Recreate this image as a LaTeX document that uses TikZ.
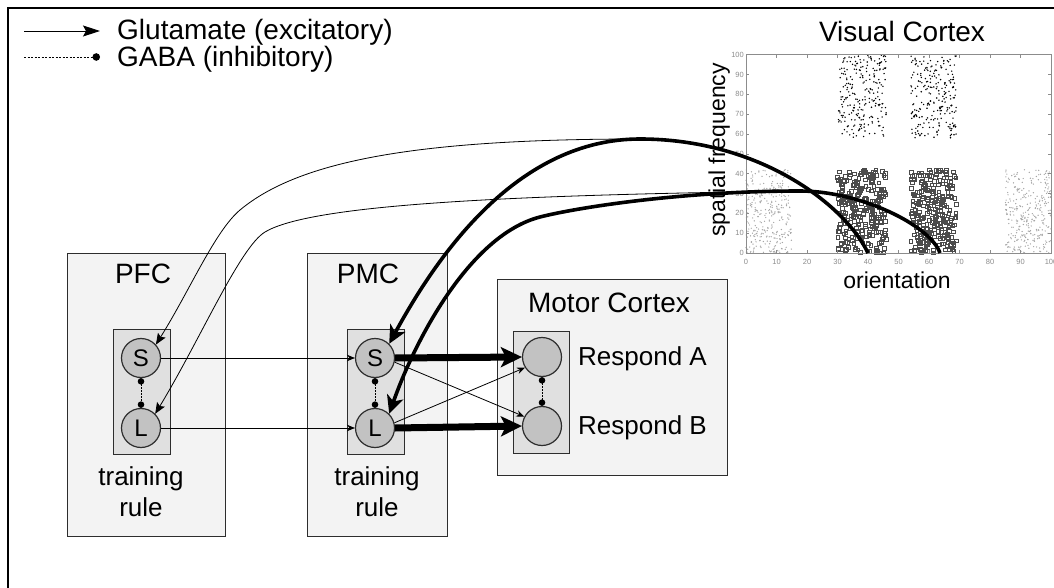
\documentclass[tikz,border=0pt]{standalone}
\usepackage{fontspec}
\setmainfont{Liberation Sans}
\usetikzlibrary{arrows.meta}

\definecolor{areafill}{RGB}{243,243,243}
\definecolor{poolfill}{RGB}{224,224,224}
\definecolor{cellfill}{RGB}{194,194,194}
\definecolor{edgecol}{RGB}{45,45,45}
\definecolor{axiscol}{RGB}{140,140,140}
\definecolor{sqcol}{RGB}{75,75,75}
\definecolor{faintcol}{RGB}{165,165,165}

\newcommand\fsz[1]{\fontsize{#1}{#1}\selectfont}

\tikzset{
  area/.style={draw=edgecol, fill=areafill, line width=1.3pt, inner sep=0pt, anchor=north west},
  pool/.style={draw=edgecol, fill=poolfill, line width=1.2pt, inner sep=0pt, anchor=north west},
  cell/.style={circle, draw=edgecol, fill=cellfill, line width=1.2pt, minimum size=39pt, inner sep=0pt, font=\fsz{24}},
  exc/.style={-{Stealth[length=8pt,width=6.5pt]}, line width=0.8pt},
  excstrong/.style={-{Stealth[length=21pt,width=20pt,inset=5pt]}, line width=7pt},
  proj/.style={-{Stealth[length=11pt,width=9pt,inset=2pt]}, line width=0.8pt},
  projstrong/.style={-{Stealth[length=18pt,width=17pt,inset=5pt]}, line width=3.6pt},
  inh/.style={{Circle[length=6.5pt]}-{Circle[length=6.5pt]}, dash pattern=on 1.5pt off 1.5pt, line width=1pt},
  title/.style={anchor=base, font=\fsz{28}},
  ticklab/.style={font=\fsz{7.5}, text=axiscol, inner sep=1pt},
}

\begin{document}
\begin{tikzpicture}[x=1pt, y=-1pt]
\useasboundingbox (0,0) rectangle (1054,588);

% frame
\draw[line width=2.5pt] (8,588) -- (8,8) -- (1054,8);

% legend
\coordinate (lgA) at (24,31);
\coordinate (lgB) at (100,31);
\coordinate (lgC) at (24,57);
\coordinate (lgD) at (100,57);
\draw[-{Stealth[length=17pt,width=11pt,inset=3pt]}, line width=0.9pt] (lgA) -- (lgB);
\draw[-{Circle[length=7.5pt]}, dash pattern=on 2pt off 1.5pt, line width=0.9pt] (lgC) -- (lgD);
\node[anchor=base west, font=\fsz{28}, inner sep=0pt] (lgexc) at (117,40) {Glutamate (excitatory)};
\node[anchor=base west, font=\fsz{28}, inner sep=0pt] (lginh) at (117,67) {GABA (inhibitory)};

% ---------- visual cortex scatter plot ----------
\node[title] (vctitle) at (902,42) {Visual Cortex};
\node[anchor=base, font=\fsz{23}] (xlab) at (897,288) {orientation};
\node[anchor=base, rotate=90, font=\fsz{23}] (ylab) at (725,150) {spatial frequency};

\pgfmathsetseed{11}
% faint populations
\foreach \lo in {0,85}{
  \foreach \k in {1,...,320}{
    \pgfmathsetmacro\px{746+3.05*(\lo+15*rnd)}
    \pgfmathsetmacro\py{253-1.983*(42*rnd)}
    \fill[faintcol] (\px,\py) circle (0.7);
  }
}
% high spatial frequency populations
\foreach \lo/\w in {30/16,54/15}{
  \foreach \k in {1,...,240}{
    \pgfmathsetmacro\px{746+3.05*(\lo+\w*rnd)}
    \pgfmathsetmacro\py{253-1.983*(58+42*rnd)}
    \fill[black] (\px,\py) circle (0.8);
  }
}
% low spatial frequency populations
\foreach \lo/\w in {30/16,54/15}{
  \foreach \k in {1,...,260}{
    \pgfmathsetmacro\px{746+3.05*(\lo+\w*rnd)}
    \pgfmathsetmacro\py{253-1.983*(42*rnd)}
    \draw[sqcol, line width=0.5pt] (\px-1.8,\py-1.8) rectangle ++(3.6,3.6);
  }
}
% axes
\draw[axiscol, line width=0.6pt] (746,54.7) rectangle (1051,253);
\foreach \u in {0,10,...,100}{
  \pgfmathsetmacro\tx{746+3.05*\u}
  \draw[axiscol, line width=0.5pt] (\tx,253) -- (\tx,250) (\tx,54.7) -- (\tx,57.7);
  \node[ticklab] at (\tx,262) {\u};
}
\foreach \v in {0,10,...,100}{
  \pgfmathsetmacro\ty{253-1.983*\v}
  \draw[axiscol, line width=0.5pt] (746,\ty) -- (749,\ty) (1051,\ty) -- (1048,\ty);
  \node[ticklab, anchor=east] at (745,\ty) {\v};
}
\coordinate (v40) at (868,253);
\coordinate (v63) at (940,253);

% ---------- areas ----------
\node[area, minimum width=158pt, minimum height=283pt] (pfc) at (67,253) {};
\node[area, minimum width=140pt, minimum height=283pt] (pmc) at (307,253) {};
\node[area, minimum width=230pt, minimum height=196pt] (motor) at (497,279) {};

\node[title] (pfct) at (143,283) {PFC};
\node[title] (pmct) at (368,283) {PMC};
\node[title] (motort) at (609,312) {Motor Cortex};

\node[anchor=north, align=center, inner sep=0pt, font={\fontsize{26}{31}\selectfont}] (pfcrule) at (141,466) {training\\rule};
\node[anchor=north, align=center, inner sep=0pt, font={\fontsize{26}{31}\selectfont}] (pmcrule) at (377,466) {training\\rule};

\node[pool, minimum width=57pt, minimum height=125pt] (pfcpool) at (113,329) {};
\node[pool, minimum width=57pt, minimum height=125pt] (pmcpool) at (347,329) {};
\node[pool, minimum width=56pt, minimum height=122pt] (motorpool) at (513,331) {};

\node[cell] (pfcS) at (141,358) {S};
\node[cell] (pfcL) at (141,428) {L};
\node[cell] (pmcS) at (375,358) {S};
\node[cell] (pmcL) at (375,428) {L};
\node[cell] (mA) at (542,357) {};
\node[cell] (mB) at (542,426) {};

\node[anchor=base west, inner sep=0pt, font=\fsz{26}] (respA) at (578,365) {Respond A};
\node[anchor=base west, inner sep=0pt, font=\fsz{26}] (respB) at (578,434) {Respond B};

% inhibitory links within each pool
\draw[inh] (pfcS) -- (pfcL);
\draw[inh] (pmcS) -- (pmcL);
\draw[inh] (mA) -- (mB);

% excitatory links between areas
\draw[exc] (pfcS) -- (pmcS);
\draw[exc] (pfcL) -- (pmcL);
\draw[excstrong] (pmcS.east) -- (mA.west);
\draw[excstrong] (pmcL.east) -- (mB.west);
\draw[exc] (pmcS.-12) -- (mB.152);
\draw[exc] (pmcL.15) -- (mA.-148);

% projections from visual cortex
\draw[proj] (v40) .. controls (845,205) and (760,139) .. (640,139)
  .. controls (420,139) and (300,160) .. (240,210)
  .. controls (215,231) and (190,290) .. (pfcS.42);
\draw[proj] (v63) .. controls (930,225) and (860,191) .. (800,191)
  .. controls (500,195) and (310,205) .. (265,232)
  .. controls (240,247) and (200,340) .. (pfcL.45);
\draw[projstrong] (v40) .. controls (845,205) and (760,139) .. (640,139)
  .. controls (520,139) and (440,250) .. (pmcS.45);
\draw[projstrong] (v63) .. controls (930,225) and (860,191) .. (800,191)
  .. controls (680,191) and (575,208) .. (540,217)
  .. controls (470,235) and (415,340) .. (pmcL.45);
\end{tikzpicture}
\end{document}
